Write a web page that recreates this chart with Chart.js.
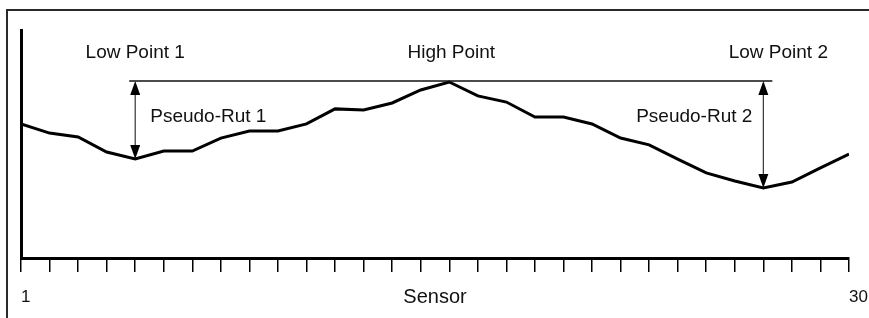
<!DOCTYPE html>
<html>
<head>
<meta charset="utf-8">
<script src="https://cdn.jsdelivr.net/npm/chart.js@4/dist/chart.umd.min.js"></script>
<style>
  html, body { margin: 0; padding: 0; background: #fff; }
  #wrap { position: relative; width: 869px; height: 318px; overflow: hidden; }
  #frame { position: absolute; left: 6px; top: 9px; width: 900px; height: 400px;
           border-left: 2px solid #2a2a2a; border-top: 2px solid #2a2a2a; }
  canvas { position: absolute; left: 0; top: 0; }
</style>
</head>
<body>
<div id="wrap">
  <div id="frame"></div>
  <canvas id="c" width="869" height="318"></canvas>
</div>
<script>
// ---- data ----
const sensors = [1, 2, 3, 4, 5, 6, 7, 8, 9, 10, 11, 12, 13, 14, 15,
                 16, 17, 18, 19, 20, 21, 22, 23, 24, 25, 26, 27, 28, 29, 30];
const profile = [58.8, 54.8, 53.1, 46.5, 43.4, 46.9, 46.9, 52.6, 55.7, 55.7,
                 58.8, 65.4, 64.9, 68.0, 73.7, 77.2, 71.1, 68.4, 61.8, 61.8,
                 58.8, 52.6, 49.6, 43.4, 37.3, 33.8, 30.7, 33.3, 39.5, 45.6];
const shownTicks = [1, 30];
const tickLabels = ['1', '30'];
const axisTitle = 'Sensor';
const lowPoint1Sensor = 5;
const highPointSensor = 16;
const lowPoint2Sensor = 27;
const pointLabels = ['Low Point 1', 'High Point', 'Low Point 2'];
const rutLabels = ['Pseudo-Rut 1', 'Pseudo-Rut 2'];

const FONT = '"Liberation Sans", Arial, sans-serif';
const INK = '#111';

function valueAt(s) { return profile[sensors.indexOf(s)]; }

function arrowHead(ctx, x, y, dir) {
  // dir = 1 pointing down, -1 pointing up; (x,y) is the tip
  const len = 14, half = 5;
  ctx.beginPath();
  ctx.moveTo(x, y);
  ctx.lineTo(x - half, y - dir * len);
  ctx.lineTo(x + half, y - dir * len);
  ctx.closePath();
  ctx.fill();
}

const annotations = {
  id: 'annotations',
  afterDatasetsDraw(chart) {
    const { ctx, scales: { x, y } } = chart;
    const hiY = y.getPixelForValue(valueAt(highPointSensor)) - 1;
    const x1 = x.getPixelForValue(lowPoint1Sensor);
    const xh = x.getPixelForValue(highPointSensor);
    const x2 = x.getPixelForValue(lowPoint2Sensor);
    const low1Y = y.getPixelForValue(valueAt(lowPoint1Sensor));
    const low2Y = y.getPixelForValue(valueAt(lowPoint2Sensor));
    ctx.save();
    // reference line through the high point
    ctx.strokeStyle = '#111';
    ctx.lineWidth = 1.5;
    ctx.beginPath();
    ctx.moveTo(x1 - 6, hiY);
    ctx.lineTo(x2 + 9, hiY);
    ctx.stroke();
    // double arrows
    ctx.fillStyle = '#000';
    ctx.strokeStyle = '#333';
    ctx.lineWidth = 1.2;
    [[x1, low1Y], [x2, low2Y]].forEach(([ax, ly]) => {
      ctx.beginPath();
      ctx.moveTo(ax, hiY + 4);
      ctx.lineTo(ax, ly - 4);
      ctx.stroke();
      arrowHead(ctx, ax, hiY, -1);
      arrowHead(ctx, ax, ly, 1);
    });
    // labels
    ctx.fillStyle = INK;
    ctx.font = '19px ' + FONT;
    ctx.textBaseline = 'middle';
    ctx.textAlign = 'center';
    ctx.fillText(pointLabels[0], x1, hiY - 28);
    ctx.fillText(pointLabels[1], xh + 2, hiY - 28);
    ctx.fillText(pointLabels[2], x2 + 15, hiY - 28);
    ctx.textAlign = 'left';
    ctx.fillText(rutLabels[0], x1 + 15, hiY + 36);
    ctx.textAlign = 'right';
    ctx.fillText(rutLabels[1], x2 - 11, hiY + 36);
    ctx.restore();
  }
};

new Chart(document.getElementById('c'), {
  type: 'line',
  data: {
    datasets: [{
      data: sensors.map((s, i) => ({ x: s, y: profile[i] })),
      borderColor: '#000',
      borderWidth: 3,
      pointRadius: 0,
      tension: 0,
      fill: false
    }]
  },
  options: {
    responsive: false,
    animation: false,
    devicePixelRatio: 1,
    layout: { padding: { left: 21, right: 20, top: 30, bottom: 10.2 } },
    plugins: { legend: { display: false }, tooltip: { enabled: false } },
    scales: {
      x: {
        type: 'linear',
        min: 1,
        max: 30,
        afterFit: (scale) => { scale.paddingLeft = 0; scale.paddingRight = 0; },
        grid: { display: true, drawOnChartArea: false, drawTicks: true,
                tickLength: 14, color: '#000', tickWidth: 1.5, lineWidth: 1.5 },
        border: { display: true, color: '#000', width: 3 },
        ticks: {
          stepSize: 1,
          autoSkip: false,
          maxRotation: 0,
          align: 'start',
          padding: 15,
          color: INK,
          font: { family: FONT, size: 17 },
          callback: (v) => {
            const k = shownTicks.indexOf(v);
            return k >= 0 ? tickLabels[k] : '';
          }
        },
        title: {
          display: true,
          text: axisTitle,
          color: INK,
          font: { family: FONT, size: 20 },
          padding: { top: -37.4, bottom: -1.2 }
        }
      },
      y: {
        type: 'linear',
        min: 0,
        max: 100,
        grid: { display: false, drawTicks: false },
        border: { display: true, color: '#000', width: 3 },
        ticks: { display: false }
      }
    }
  },
  plugins: [annotations]
});
</script>
</body>
</html>
